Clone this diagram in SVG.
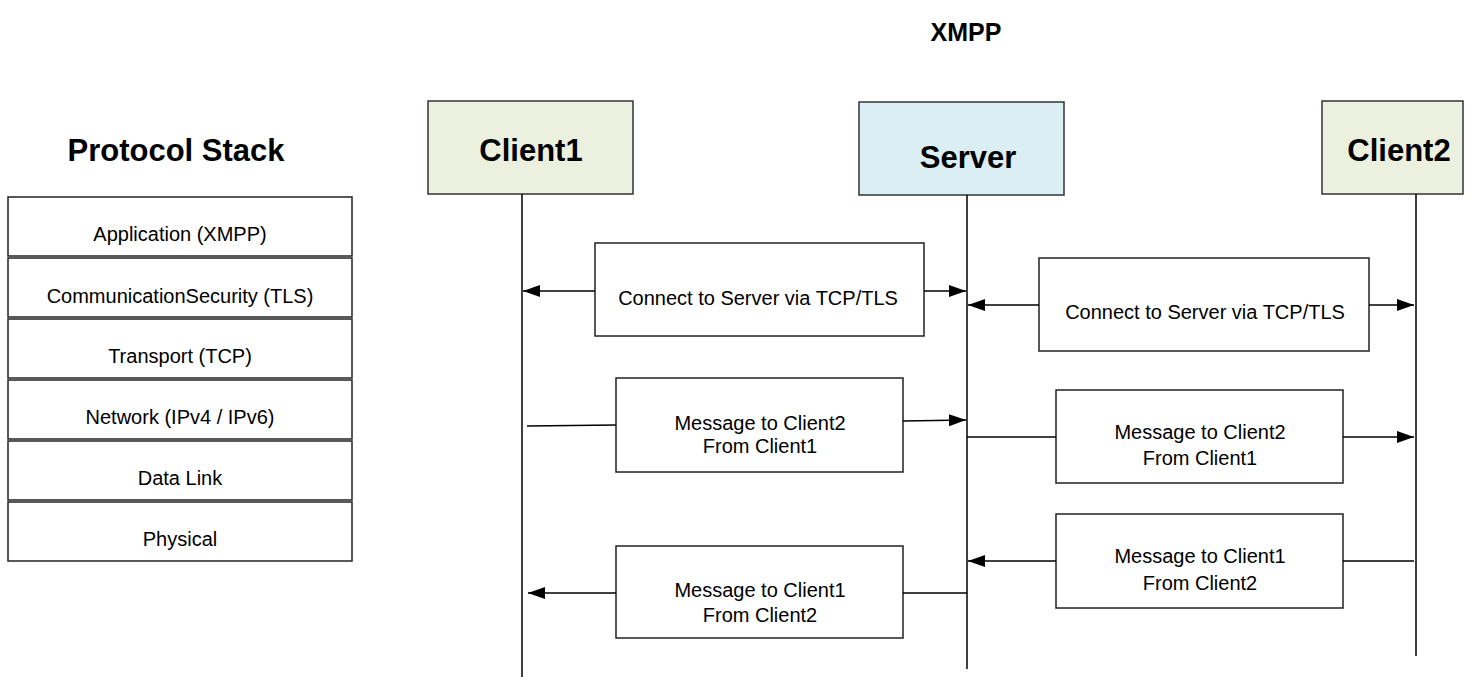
<svg xmlns="http://www.w3.org/2000/svg" width="1469" height="677" viewBox="0 0 1469 677">
<defs>
<style>
text{font-family:"Liberation Sans",Arial,sans-serif;fill:#000}
.t{font-size:20px;text-anchor:middle}
.h{font-size:31px;font-weight:bold;text-anchor:middle}
.box{fill:#fff;stroke:#222;stroke-width:1.5}
.cl{fill:#EBF1DE;stroke:#333;stroke-width:1.5}
.sv{fill:#DAEEF3;stroke:#333;stroke-width:1.5}
.ln{stroke:#000;stroke-width:1.5;fill:none}
.ar{stroke:#000;stroke-width:1.5;fill:none;marker-end:url(#ah)}
</style>
<marker id="ah" markerUnits="userSpaceOnUse" markerWidth="18" markerHeight="13" refX="17" refY="6" orient="auto">
<path d="M0,0 L17,6 L0,12 z" fill="#000"/>
</marker>
</defs>
<rect width="1469" height="677" fill="#fff"/>
<text x="966" y="41" style="font-size:25px;font-weight:bold;text-anchor:middle">XMPP</text>
<text x="176" y="161" style="font-size:31px;font-weight:bold;text-anchor:middle">Protocol Stack</text>

<g id="stack">
<g id="layer-app"><rect class="box" x="8" y="197" width="344" height="59"/><text class="t" x="180" y="241">Application (XMPP)</text></g>
<g id="layer-sec"><rect class="box" x="8" y="258" width="344" height="59"/><text class="t" x="180" y="303">CommunicationSecurity (TLS)</text></g>
<g id="layer-tcp"><rect class="box" x="8" y="319" width="344" height="59"/><text class="t" x="180" y="363">Transport (TCP)</text></g>
<g id="layer-net"><rect class="box" x="8" y="380" width="344" height="59"/><text class="t" x="180" y="424">Network (IPv4 / IPv6)</text></g>
<g id="layer-link"><rect class="box" x="8" y="441" width="344" height="59"/><text class="t" x="180" y="485">Data Link</text></g>
<g id="layer-phy"><rect class="box" x="8" y="502" width="344" height="59"/><text class="t" x="180" y="546">Physical</text></g>
</g>

<g id="client1"><rect class="cl" x="428" y="101" width="205" height="93"/><text class="h" x="531" y="161">Client1</text></g>
<g id="server"><rect class="sv" x="859" y="102" width="205" height="93"/><text class="h" x="968" y="168">Server</text></g>
<g id="client2"><rect class="cl" x="1322" y="101" width="141" height="93"/><text class="h" x="1399" y="161">Client2</text></g>

<g id="msg-connect1"><rect class="box" x="595" y="243" width="329" height="93"/><text class="t" x="758" y="305">Connect to Server via TCP/TLS</text></g>
<g id="msg-connect2"><rect class="box" x="1039" y="258" width="330" height="93"/><text class="t" x="1205" y="319">Connect to Server via TCP/TLS</text></g>
<g id="msg-c1-to-c2-a"><rect class="box" x="616" y="378" width="287" height="94"/><text class="t" x="760" y="430">Message to Client2</text><text class="t" x="760" y="453">From Client1</text></g>
<g id="msg-c1-to-c2-b"><rect class="box" x="1056" y="390" width="287" height="93"/><text class="t" x="1200" y="439">Message to Client2</text><text class="t" x="1200" y="465">From Client1</text></g>
<g id="msg-c2-to-c1-a"><rect class="box" x="1056" y="514" width="287" height="94"/><text class="t" x="1200" y="563">Message to Client1</text><text class="t" x="1200" y="590">From Client2</text></g>
<g id="msg-c2-to-c1-b"><rect class="box" x="616" y="546" width="287" height="92"/><text class="t" x="760" y="597">Message to Client1</text><text class="t" x="760" y="622">From Client2</text></g>

<g id="connectors">
<line class="ln" x1="522" y1="194" x2="522" y2="677"/>
<line class="ln" x1="967" y1="195" x2="967" y2="669"/>
<line class="ln" x1="1416" y1="194" x2="1416" y2="656"/>
<line class="ar" x1="595" y1="291" x2="523" y2="291"/>
<line class="ar" x1="924" y1="291" x2="966" y2="291"/>
<line class="ar" x1="1039" y1="305" x2="968" y2="305"/>
<line class="ar" x1="1369" y1="305" x2="1414" y2="305"/>
<line class="ln" x1="527" y1="426" x2="616" y2="425"/>
<line class="ar" x1="903" y1="421" x2="966" y2="420"/>
<line class="ln" x1="967" y1="437" x2="1056" y2="437"/>
<line class="ar" x1="1343" y1="437" x2="1414" y2="437"/>
<line class="ar" x1="1056" y1="561" x2="968" y2="561"/>
<line class="ln" x1="1343" y1="561" x2="1414" y2="561"/>
<line class="ar" x1="616" y1="593" x2="528" y2="593"/>
<line class="ln" x1="903" y1="593" x2="967" y2="593"/>
</g>
</svg>
